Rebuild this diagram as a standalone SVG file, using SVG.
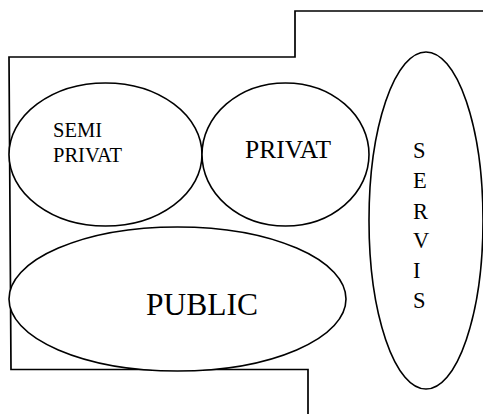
<svg xmlns="http://www.w3.org/2000/svg" width="483" height="414" viewBox="0 0 483 414">
<style>
.ln{fill:none;stroke:#000;stroke-width:1.7}
.zone{fill:#fff;stroke:#000;stroke-width:1.6}
text{font-family:'Liberation Serif','DejaVu Serif',serif;fill:#000}
</style>
<rect width="483" height="414" fill="#fff"/>
<g id="outline">
<polyline class="ln" points="483,11 295,11 295,57 9,57 11,369.5 308,369.5 308,414"/>
</g>
<g id="connectors"></g>
<g id="semi-privat">
<ellipse class="zone" cx="105.5" cy="154.5" rx="96.5" ry="71.5"/>
<text font-family="Liberation Serif, serif" font-size="20.5" x="53" y="137">SEMI</text>
<text font-family="Liberation Serif, serif" font-size="20.5" x="53" y="162">PRIVAT</text>
</g>
<g id="privat">
<ellipse class="zone" cx="285.5" cy="154.5" rx="83.5" ry="71.5"/>
<text font-family="Liberation Serif, serif" font-size="25.5" x="245" y="158">PRIVAT</text>
</g>
<g id="public">
<ellipse class="zone" cx="177.5" cy="299" rx="168.5" ry="72"/>
<text font-family="Liberation Serif, serif" font-size="31.5" x="146" y="315">PUBLIC</text>
</g>
<g id="servis" font-family="Liberation Serif, serif" font-size="22.5">
<ellipse class="zone" cx="426" cy="220.5" rx="57" ry="168.5"/>
<text x="413" y="158">S</text>
<text x="413" y="188">E</text>
<text x="413" y="219">R</text>
<text x="413" y="248">V</text>
<text x="413" y="278">I</text>
<text x="413" y="308">S</text>
</g>
</svg>
